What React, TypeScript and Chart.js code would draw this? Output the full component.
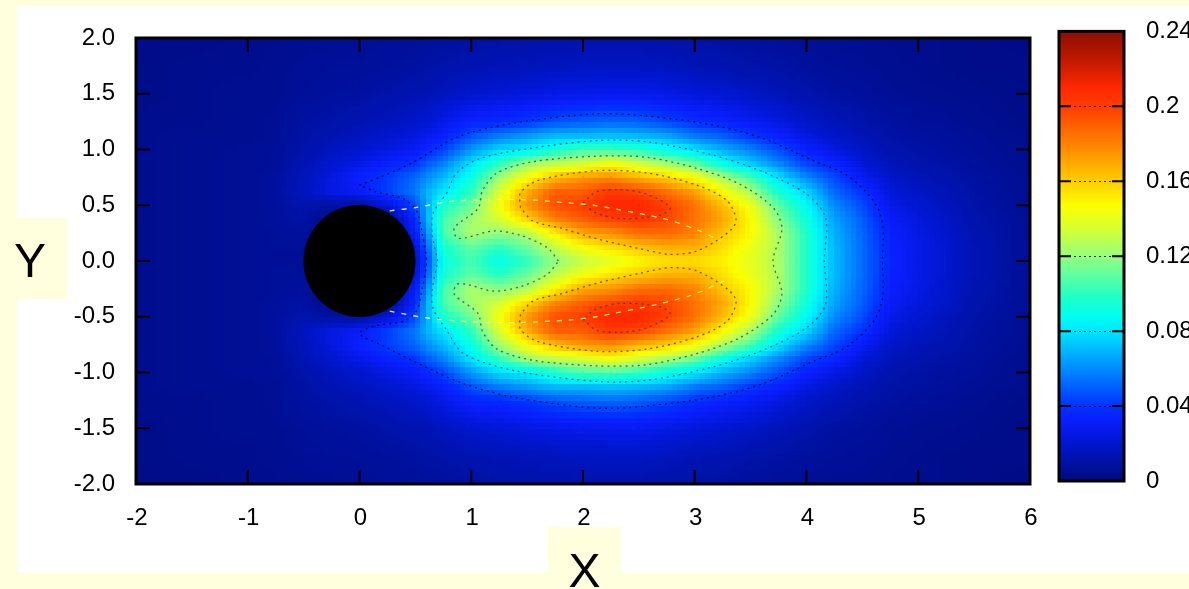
import React, { useEffect, useRef } from "react";
import { Chart, registerables } from "chart.js";

Chart.register(...registerables);

const xNodes = [-2, -1.5, -1, -0.75, -0.5, -0.25, 0, 0.25, 0.5, 0.625, 0.75, 1, 1.25, 1.5, 1.75, 2, 2.25, 2.5, 2.75, 3, 3.25, 3.5, 3.75, 4, 4.25, 4.5, 4.75, 5, 5.5, 6];
const yNodes = [0, 0.125, 0.25, 0.375, 0.5, 0.625, 0.75, 0.875, 1, 1.125, 1.25, 1.5, 1.75, 2];

// one list per x node, values upward along yNodes (the field is read as mirrored about y = 0)
const fieldByColumn = [
  [.004, .004, .004, .004, .004, .004, .004, .004, .004, .004, .004, .003, .003, .003],
  [.005, .005, .005, .005, .005, .005, .005, .005, .005, .005, .004, .004, .004, .003],
  [.006, .006, .006, .006, .006, .006, .006, .006, .006, .005, .005, .005, .004, .004],
  [.006, .007, .007, .008, .008, .008, .008, .007, .007, .006, .006, .005, .005, .004],
  [.006, .007, .008, .010, .012, .016, .015, .013, .011, .010, .009, .007, .006, .005],
  [0, 0, 0, .002, .009, .025, .024, .020, .016, .013, .011, .008, .007, .005],
  [0, 0, 0, 0, .008, .030, .034, .026, .020, .016, .013, .009, .007, .006],
  [0, 0, 0, 0, .022, .042, .042, .034, .025, .020, .016, .011, .008, .007],
  [.015, .020, .030, .036, .045, .055, .052, .040, .030, .024, .019, .013, .009, .007],
  [.050, .055, .065, .072, .070, .070, .062, .050, .037, .028, .022, .014, .010, .008],
  [.090, .095, .105, .105, .095, .080, .070, .057, .043, .033, .026, .016, .011, .008],
  [.105, .110, .125, .122, .112, .100, .090, .080, .062, .047, .035, .020, .013, .009],
  [.088, .100, .118, .135, .145, .135, .122, .100, .077, .056, .037, .022, .014, .010],
  [.100, .112, .125, .157, .175, .168, .145, .122, .082, .063, .041, .024, .015, .011],
  [.118, .130, .150, .180, .195, .190, .165, .130, .095, .070, .047, .026, .016, .012],
  [.130, .145, .170, .190, .200, .190, .175, .135, .105, .070, .050, .027, .017, .012],
  [.138, .155, .175, .198, .212, .202, .178, .145, .105, .072, .052, .028, .017, .012],
  [.148, .162, .185, .203, .212, .197, .168, .135, .100, .070, .050, .028, .017, .012],
  [.155, .168, .187, .198, .200, .185, .160, .124, .090, .066, .045, .026, .016, .011],
  [.155, .168, .180, .185, .185, .172, .147, .112, .080, .056, .039, .023, .014, .010],
  [.150, .155, .162, .170, .165, .148, .125, .090, .068, .050, .035, .021, .013, .009],
  [.140, .142, .148, .148, .143, .125, .105, .075, .058, .041, .030, .018, .011, .008],
  [.125, .126, .125, .118, .110, .095, .080, .060, .046, .034, .025, .015, .010, .007],
  [.098, .098, .098, .093, .087, .077, .060, .044, .034, .025, .019, .012, .008, .006],
  [.070, .070, .068, .065, .060, .052, .045, .036, .025, .019, .015, .009, .007, .005],
  [.053, .053, .052, .050, .046, .040, .030, .023, .018, .014, .011, .008, .006, .005],
  [.036, .035, .034, .031, .027, .023, .019, .015, .012, .010, .009, .006, .005, .004],
  [.027, .027, .026, .024, .021, .018, .015, .012, .010, .009, .007, .005, .004, .004],
  [.014, .014, .013, .012, .011, .010, .009, .008, .007, .006, .005, .004, .003, .003],
  [.006, .006, .006, .006, .005, .005, .005, .004, .004, .004, .003, .003, .003, .002],
];

const contour004 = [[0, .68], [.18, .75], [.48, .885], [.87, 1.11], [1.37, 1.235], [2.12, 1.32], [2.57, 1.30], [3.16, 1.22], [3.61, 1.10], [4.06, .90], [4.36, .77], [4.6, .54], [4.68, .34], [4.68, 0], [4.68, -.34], [4.6, -.54], [4.36, -.77], [4.06, -.9], [3.61, -1.1], [3.16, -1.22], [2.57, -1.3], [2.12, -1.32], [1.37, -1.22], [.93, -1.1], [.57, -.94], [.21, -.76], [0, -.65], [.15, -.58], [.39, -.54], [.51, -.45], [.56, -.25], [.6, 0], [.56, .25], [.51, .45], [.39, .56], [.15, .62], [0, .68]];
const contour008 = [[.7, 0], [.65, .25], [.66, .43], [.78, .61], [.87, .79], [1.08, .92], [1.53, 1.01], [2.12, 1.08], [2.57, 1.07], [3.16, .95], [3.61, .8], [4.0, .6], [4.17, .39], [4.16, 0], [4.17, -.39], [4, -.6], [3.61, -.8], [3.16, -.95], [2.57, -1.07], [2.12, -1.08], [1.37, -.98], [.93, -.83], [.78, -.62], [.66, -.43], [.65, -.27], [.7, 0]];
const contour012 = [[1.78, 0], [1.68, .12], [1.44, .23], [1.2, .27], [.96, .21], [.87, .21], [.85, .3], [1.06, .47], [1.1, .63], [1.23, .79], [1.55, .89], [2.12, .94], [2.57, .93], [3.02, .83], [3.4, .69], [3.7, .48], [3.78, .29], [3.7, 0], [3.78, -.29], [3.7, -.48], [3.4, -.69], [3.02, -.83], [2.57, -.93], [2.12, -.94], [1.55, -.89], [1.23, -.79], [1.1, -.63], [1.06, -.47], [.85, -.3], [.87, -.21], [.96, -.21], [1.2, -.27], [1.44, -.23], [1.68, -.12], [1.78, 0]];
const contour016Upper = [[1.44, .48], [1.44, .61], [1.59, .72], [2.12, .81], [2.57, .79], [3.02, .68], [3.29, .54], [3.37, .36], [3.29, .25], [3.02, .09], [2.78, .06], [2.51, .11], [2.12, .2], [1.82, .29], [1.55, .36], [1.44, .48]];
const contour016Lower = [[1.44, -.48], [1.44, -.61], [1.59, -.72], [2.12, -.81], [2.57, -.79], [3.02, -.68], [3.29, -.54], [3.37, -.36], [3.29, -.25], [3.02, -.09], [2.78, -.06], [2.51, -.11], [2.12, -.2], [1.82, -.29], [1.55, -.36], [1.44, -.48]];
const contour020Upper = [[2, .52], [2.12, .62], [2.33, .64], [2.57, .6], [2.78, .48], [2.69, .41], [2.33, .38], [2.12, .43], [2, .52]];
const contour020Lower = [[2, -.52], [2.12, -.62], [2.33, -.64], [2.57, -.6], [2.78, -.48], [2.69, -.41], [2.33, -.38], [2.12, -.43], [2, -.52]];
const ridgeUpper = [[.27, .45], [.51, .48], [.78, .53], [1.14, .55], [1.47, .55], [1.76, .53], [2.09, .5], [2.27, .47], [2.72, .38], [3.02, .28], [3.23, .18]];
const ridgeLower = [[.27, -.45], [.6, -.51], [1.08, -.55], [1.47, -.55], [1.86, -.53], [2.12, -.5], [2.27, -.47], [2.66, -.39], [2.99, -.3], [3.26, -.18]];
const obstacle = [[0, 0]];

const colorbarLevels = [0, 0.04, 0.08, 0.12, 0.16, 0.2, 0.24];
const colorbarLabels = ["0", "0.04", "0.08", "0.12", "0.16", "0.2", "0.24"];
const stopValues = [0, .01, .02, .033, .04, .06, .08, .088, .098, .12, .135, .147, .16, .18, .2, .21, .225, .24];
const stopColors = [[0, 10, 125], [0, 18, 165], [0, 22, 205], [10, 30, 255], [0, 50, 255], [0, 140, 255], [0, 230, 255], [0, 255, 240], [30, 255, 200], [150, 255, 125], [215, 255, 50], [250, 255, 0], [255, 205, 0], [255, 130, 0], [255, 60, 0], [255, 40, 0], [190, 25, 0], [140, 15, 0]];

const PAGE = "#ffffdd";
const FONT = "'Liberation Sans', Arial, sans-serif";
const TICK_SIZE = 24;

function colorOf(v: number) {
  const n = stopValues.length;
  if (v <= stopValues[0]) return stopColors[0];
  for (let i = 1; i < n; i++) {
    if (v <= stopValues[i]) {
      const t = (v - stopValues[i - 1]) / (stopValues[i] - stopValues[i - 1]);
      const a = stopColors[i - 1], b = stopColors[i];
      return [0, 1, 2].map((k) => Math.round(a[k] + (b[k] - a[k]) * t));
    }
  }
  return stopColors[n - 1];
}
const css = (c: number[]) => `rgb(${c[0]},${c[1]},${c[2]})`;

function locate(list: number[], v: number) {
  let i = 0;
  while (i < list.length - 2 && v > list[i + 1]) i++;
  return [i, Math.min(1, Math.max(0, (v - list[i]) / (list[i + 1] - list[i])))];
}
function shadeAt(x: number, y: number) {
  const [i, tx] = locate(xNodes, x);
  const [j, ty] = locate(yNodes, Math.abs(y));
  const a = fieldByColumn[i], b = fieldByColumn[i + 1];
  return (a[j] * (1 - ty) + a[j + 1] * ty) * (1 - tx) + (b[j] * (1 - ty) + b[j + 1] * ty) * tx;
}

const shadePlugin = {
  id: "shade",
  beforeDatasetsDraw(chart: any) {
    const { ctx, scales: { x, y } } = chart;
    const step = 0.05;
    ctx.save();
    for (let i = 0; i < 160; i++) {
      for (let j = 0; j < 80; j++) {
        const x0 = -2 + i * step, y0 = -2 + j * step;
        ctx.fillStyle = css(colorOf(shadeAt(x0 + step / 2, y0 + step / 2)));
        const px = Math.floor(x.getPixelForValue(x0));
        const px2 = Math.ceil(x.getPixelForValue(x0 + step));
        const py = Math.floor(y.getPixelForValue(y0 + step));
        const py2 = Math.ceil(y.getPixelForValue(y0));
        ctx.fillRect(px, py, px2 - px, py2 - py);
      }
    }
    ctx.restore();
  },
};

function drawFrame(ctx: CanvasRenderingContext2D, a: any, width: number) {
  ctx.strokeStyle = "#000";
  ctx.lineWidth = width;
  ctx.strokeRect(a.left, a.top, a.right - a.left, a.bottom - a.top);
}

const framePlugin = {
  id: "frame",
  afterDraw(chart: any) {
    const { ctx, chartArea: a, scales: { x, y } } = chart;
    ctx.save();
    ctx.strokeStyle = "#000";
    ctx.lineWidth = 2;
    ctx.beginPath();
    x.ticks.forEach((t: any) => {
      const p = x.getPixelForValue(t.value);
      ctx.moveTo(p, a.bottom); ctx.lineTo(p, a.bottom - 14);
      ctx.moveTo(p, a.top); ctx.lineTo(p, a.top + 14);
    });
    y.ticks.forEach((t: any) => {
      const p = y.getPixelForValue(t.value);
      ctx.moveTo(a.left, p); ctx.lineTo(a.left + 14, p);
      ctx.moveTo(a.right, p); ctx.lineTo(a.right - 14, p);
    });
    ctx.stroke();
    drawFrame(ctx, a, 3);
    ctx.restore();
  },
};

const barFramePlugin = {
  id: "barFrame",
  afterDraw(chart: any) {
    const { ctx, chartArea: a, scales: { y } } = chart;
    ctx.save();
    ctx.strokeStyle = "#000";
    ctx.lineWidth = 2;
    ctx.beginPath();
    colorbarLevels.slice(1, -1).forEach((v) => {
      const p = y.getPixelForValue(v);
      ctx.moveTo(a.left, p); ctx.lineTo(a.left + 12, p);
      ctx.moveTo(a.right, p); ctx.lineTo(a.right - 12, p);
    });
    ctx.stroke();
    drawFrame(ctx, a, 3);
    ctx.restore();
  },
};

const contourStyle = (data: number[][], color: string, dash: number[], width = 1) => ({
  type: "scatter",
  data: data.map(([x, y]) => ({ x, y })),
  showLine: true,
  tension: 0.3,
  borderColor: color,
  borderWidth: width,
  borderDash: dash,
  pointRadius: 0,
  fill: false,
  order: 2,
});

export default function App() {
  const mainRef = useRef<HTMLCanvasElement>(null);
  const barRef = useRef<HTMLCanvasElement>(null);

  useEffect(() => {
    const nodes: any[] = [];
    const colors: string[] = [];
    xNodes.forEach((x, i) => yNodes.forEach((y, j) => {
      nodes.push({ x, y });
      colors.push(css(colorOf(fieldByColumn[i][j])));
      if (y !== 0) {
        nodes.push({ x, y: -y });
        colors.push(css(colorOf(fieldByColumn[i][j])));
      }
    }));
    const dark = "rgba(40,50,70,0.75)";
    const main = new Chart(mainRef.current!, {
      type: "scatter",
      data: {
        datasets: [
          { data: obstacle.map(([x, y]) => ({ x, y })), pointRadius: 56, pointHoverRadius: 56, backgroundColor: "#000", borderWidth: 0, order: 1 },
          contourStyle(ridgeUpper, "rgba(255,255,110,0.9)", [5, 7], 1.3),
          contourStyle(ridgeLower, "rgba(255,255,110,0.9)", [5, 7], 1.3),
          contourStyle(contour004, "rgba(0,0,40,0.9)", [2, 4], 1.3),
          contourStyle(contour008, dark, [2, 4], 1.3),
          contourStyle(contour012, dark, [2, 4], 1.3),
          contourStyle(contour016Upper, dark, [2, 4], 1.3),
          contourStyle(contour016Lower, dark, [2, 4], 1.3),
          contourStyle(contour020Upper, dark, [2, 4], 1.3),
          contourStyle(contour020Lower, dark, [2, 4], 1.3),
          { data: nodes, pointStyle: "rect", pointRadius: 1.5, pointBackgroundColor: colors, pointBorderWidth: 0, order: 5 },
        ] as any,
      },
      plugins: [shadePlugin, framePlugin],
      options: {
        responsive: false,
        animation: false,
        events: [],
        layout: { autoPadding: false, padding: { top: 38, right: 159, left: 0, bottom: 0 } },
        plugins: { legend: { display: false }, tooltip: { enabled: false } },
        scales: {
          x: {
            type: "linear", min: -2, max: 6,
            grid: { display: false }, border: { display: false },
            afterFit: (s: any) => { s.height = 105; },
            ticks: { stepSize: 1, color: "#000", padding: 12, maxRotation: 0, font: { family: FONT, size: TICK_SIZE }, labelOffset: 1 },
          },
          y: {
            type: "linear", min: -2, max: 2,
            grid: { display: false }, border: { display: false },
            afterFit: (s: any) => { s.width = 136; },
            ticks: { stepSize: 0.5, color: "#000", padding: 13, font: { family: FONT, size: TICK_SIZE }, callback: (v: any) => Number(v).toFixed(1) },
          },
        },
      } as any,
    });

    const bar = new Chart(barRef.current!, {
      type: "bar",
      data: {
        labels: ["scale"],
        datasets: [{
          data: [0.24],
          barPercentage: 1,
          categoryPercentage: 1,
          borderWidth: 0,
          backgroundColor: (c: any) => {
            const a = c.chart.chartArea;
            if (!a) return "#000";
            const g = c.chart.ctx.createLinearGradient(0, a.bottom, 0, a.top);
            stopValues.forEach((v, i) => g.addColorStop(v / 0.24, css(stopColors[i])));
            return g;
          },
        }],
      },
      plugins: [barFramePlugin],
      options: {
        responsive: false,
        animation: false,
        events: [],
        layout: { autoPadding: false, padding: { top: 26, left: 19, right: 0, bottom: 108 } },
        plugins: { legend: { display: false }, tooltip: { enabled: false } },
        scales: {
          x: { display: false },
          y: {
            position: "right", min: 0, max: 0.24, offset: false,
            afterBuildTicks: (s: any) => { s.ticks = colorbarLevels.map((value) => ({ value })); },
            afterFit: (s: any) => { s.width = 65; },
            grid: { drawTicks: false, color: "rgba(0,0,0,0.8)", lineWidth: 1, z: 1 },
            border: { display: false, dash: [2, 3] },
            ticks: {
              color: "#000", padding: 22, autoSkip: false, maxRotation: 0,
              font: { family: FONT, size: TICK_SIZE },
              callback: (v: any) => colorbarLabels[colorbarLevels.indexOf(v)] ?? "",
            },
          },
        },
      } as any,
    });
    return () => { main.destroy(); bar.destroy(); };
  }, []);

  const labelBox = (left: number, top: number, width: number, height: number): React.CSSProperties => ({
    position: "absolute", left, top, width, height, background: PAGE,
  });

  return (
    <div style={{ position: "fixed", inset: 0, background: PAGE, overflow: "hidden" }}>
      <div style={{ position: "absolute", left: 17, top: 6, width: 1172, height: 566, background: "#fff" }} />
      <div style={labelBox(17, 218, 50, 81)} />
      <div style={labelBox(548, 527, 73, 62)} />
      <canvas ref={mainRef} width={1189} height={589} style={{ position: "absolute", left: 0, top: 0, display: "block" }} />
      <canvas ref={barRef} width={149} height={594} style={{ position: "absolute", left: 1040, top: -5, display: "block" }} />
      <div style={{ position: "absolute", left: 7, width: 46, top: 232, lineHeight: "58px", fontFamily: FONT, fontSize: 48, textAlign: "center", color: "#000" }}>Y</div>
      <div style={{ position: "absolute", left: 548, width: 73, top: 542, lineHeight: "58px", fontFamily: FONT, fontSize: 48, textAlign: "center", color: "#000" }}>X</div>
    </div>
  );
}
